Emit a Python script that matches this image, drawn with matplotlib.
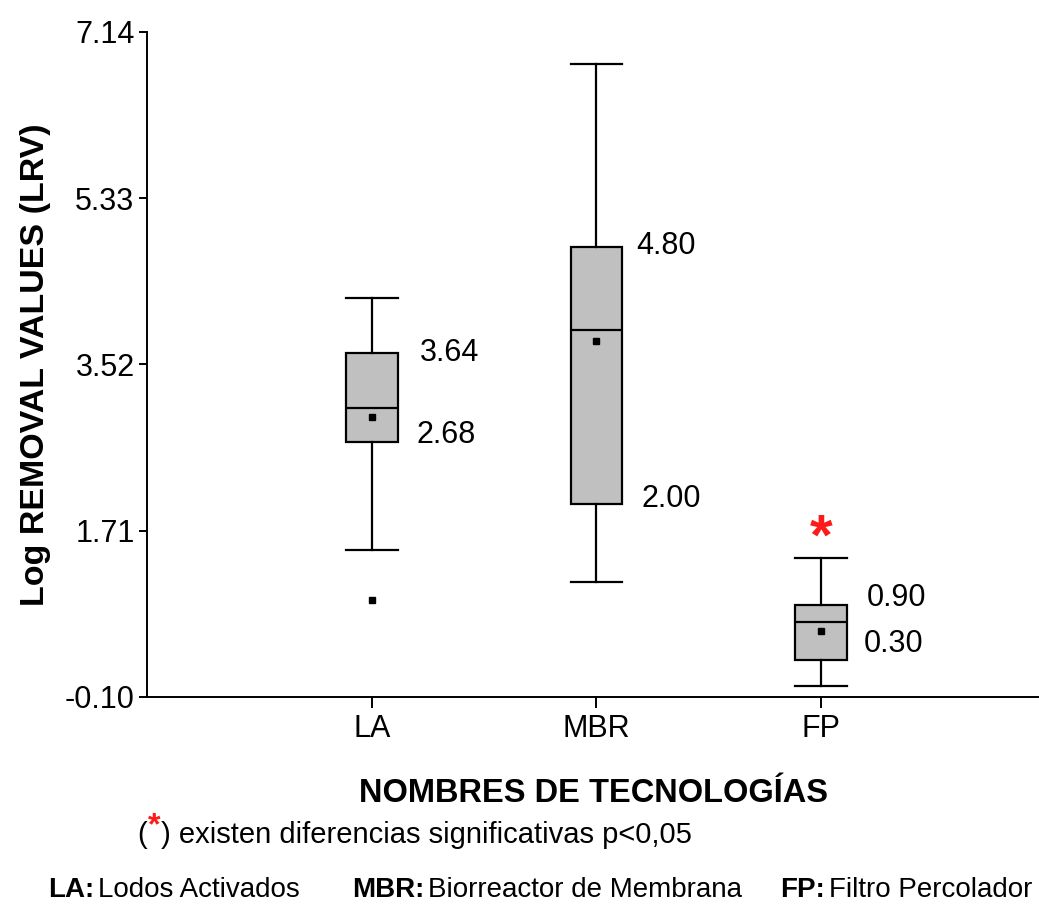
import matplotlib
matplotlib.use("Agg")
import matplotlib.pyplot as plt

plt.rcParams["font.family"] = ["Liberation Sans", "DejaVu Sans"]

# summary statistics per technology
tecnologias = ["LA", "MBR", "FP"]
whis_lo = [1.50, 1.15, 0.02]
q1 = [2.68, 2.00, 0.30]
medianas = [3.05, 3.90, 0.72]
q3 = [3.64, 4.80, 0.90]
whis_hi = [4.24, 6.79, 1.41]
medias = [2.95, 3.78, 0.62]
atipicos = [[0.96], [], []]

y_ticks = [-0.10, 1.71, 3.52, 5.33, 7.14]
significativo = [False, False, True]

abreviaturas = ["LA:", "MBR:", "FP:"]
nombres = ["Lodos Activados", "Biorreactor de Membrana", "Filtro Percolador"]

fig = plt.figure(figsize=(10.39, 9.08), dpi=100)
ax = fig.add_axes([0.1415, 0.2324, 0.8585, 0.7324])

stats = []
for i, t in enumerate(tecnologias):
    stats.append(dict(label=t, whislo=whis_lo[i], q1=q1[i], med=medianas[i],
                      q3=q3[i], whishi=whis_hi[i], mean=medias[i],
                      fliers=atipicos[i]))

pos = [1, 2, 3]
lw = 1.6
ax.bxp(stats, positions=pos, widths=0.23, capwidths=0.23, showmeans=True,
       patch_artist=True,
       boxprops=dict(facecolor="#c0c0c0", edgecolor="black", linewidth=lw),
       medianprops=dict(color="black", linewidth=lw),
       whiskerprops=dict(color="black", linewidth=lw),
       capprops=dict(color="black", linewidth=lw),
       meanprops=dict(marker="s", markerfacecolor="black", markeredgecolor="black", markersize=5),
       flierprops=dict(marker="s", markerfacecolor="black", markeredgecolor="black", markersize=5))

# quartile labels next to each box
dx_q3 = [16, 10, 14]
dx_q1 = [14, 14, 12]
dy_q3 = [0, 1, 5]
dy_q1 = [5, 4, 12]
for i, p in enumerate(pos):
    ax.annotate("%.2f" % q3[i], (p + 0.115, q3[i]), xytext=(dx_q3[i], dy_q3[i]),
                textcoords="offset points", va="center", ha="left", fontsize=22)
    ax.annotate("%.2f" % q1[i], (p + 0.115, q1[i]), xytext=(dx_q1[i], dy_q1[i]),
                textcoords="offset points", va="center", ha="left", fontsize=22)
    if significativo[i]:
        ax.annotate("*", (p, whis_hi[i]), xytext=(0, -6), textcoords="offset points",
                    ha="center", va="bottom", fontsize=42, fontweight="bold", color="#ff1a1a")

ax.set_xlim(0, 3.97)
ax.set_ylim(y_ticks[0], y_ticks[-1])
ax.set_yticks(y_ticks)
ax.set_yticklabels(["%.2f" % v for v in y_ticks], fontsize=22)
ax.set_xticks(pos)
ax.set_xticklabels(tecnologias, fontsize=22)
ax.tick_params(axis="y", direction="out", length=6, width=1.4, pad=3)
ax.tick_params(axis="x", direction="out", length=8, width=1.4, pad=4)

for s in ["top", "right"]:
    ax.spines[s].set_visible(False)
for s in ["left", "bottom"]:
    ax.spines[s].set_linewidth(1.4)

ax.set_ylabel("Log REMOVAL VALUES (LRV)", fontsize=24.5, fontweight="bold", labelpad=10)
ax.set_xlabel("NOMBRES DE TECNOLOGÍAS", fontsize=23.5, fontweight="bold", labelpad=25)

# footnotes
fig.text(137 / 1039, 1 - 835 / 908, "(", fontsize=21, va="center")
fig.text(148 / 1039, 1 - 826 / 908, "*", fontsize=23, va="center",
         color="#ff1a1a", fontweight="bold")
fig.text(161 / 1039, 1 - 835 / 908, ") existen diferencias significativas p<0,05",
         fontsize=21, va="center")

x_abrev = [48, 352, 780]
for x, ab, nom in zip(x_abrev, abreviaturas, nombres):
    t = fig.text(x / 1039, 1 - 890 / 908, ab, fontsize=20, va="center", fontweight="bold")
    ax.annotate(nom, xy=(1, 0.5), xycoords=t, xytext=(3, 0), textcoords="offset points",
                fontsize=20, va="center", ha="left", annotation_clip=False)

fig.savefig("out.png", dpi=100)
